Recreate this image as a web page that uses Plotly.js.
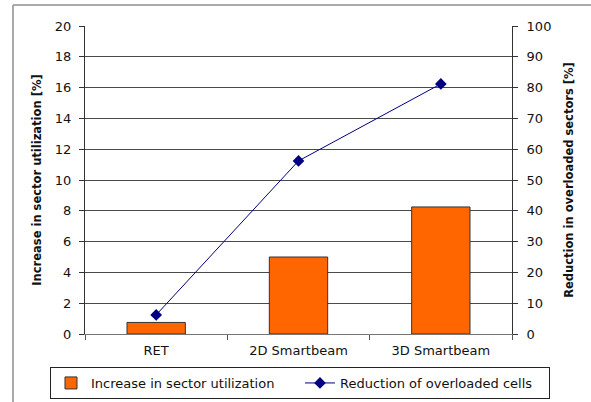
<!DOCTYPE html>
<html>
<head>
<meta charset="utf-8">
<script src="https://cdn.plot.ly/plotly-3.0.1.min.js"></script>
<style>html,body{margin:0;padding:0;background:#fff;}#chart{width:591px;height:402px;}</style>
</head>
<body>
<div id="chart"></div>
<script>
const categories = ["RET", "2D Smartbeam", "3D Smartbeam"];
const utilizationIncrease = [0.75, 5.0, 8.25];
const overloadReduction = [6.2, 56.2, 81.2];
const barName = "Increase in sector utilization";
const lineName = "Reduction of overloaded cells";

const font = {family: "DejaVu Sans, Verdana, sans-serif", color: "#111"};
const f = (s) => Object.assign({size: s}, font);

const traces = [
  {
    type: "bar", x: categories, y: utilizationIncrease, name: barName,
    marker: {color: "#FF6600", line: {color: "#333", width: 1}},
    yaxis: "y", width: 0.41
  },
  {
    type: "scatter", mode: "lines+markers", x: categories, y: overloadReduction, name: lineName,
    line: {color: "#000080", width: 1},
    marker: {symbol: "diamond", size: 9, color: "#000080"},
    yaxis: "y2"
  }
];

const layout = {
  width: 591, height: 402,
  margin: {l: 85, r: 79, t: 26, b: 68, autoexpand: false},
  paper_bgcolor: "#fff", plot_bgcolor: "#fff",
  font: f(13),
  showlegend: true,
  legend: {
    orientation: "h", x: -0.082, y: -0.211, xanchor: "left", yanchor: "bottom",
    bordercolor: "#222", borderwidth: 1, font: f(13),
    traceorder: "normal", entrywidth: 204
  },
  xaxis: {
    type: "category", showline: true, linecolor: "#777", linewidth: 1,
    ticks: "outside", tickson: "boundaries", ticklen: 5, tickcolor: "#555",
    showgrid: false, tickfont: f(13), zeroline: false, ticklabelstandoff: 4
  },
  yaxis: {
    range: [0, 20], dtick: 2, showline: true, linecolor: "#333", linewidth: 1,
    ticks: "outside", ticklen: 5, tickcolor: "#333",
    showgrid: true, gridcolor: "#4a4a4a", gridwidth: 1, zeroline: false,
    tickfont: f(13), ticklabelstandoff: 5,
    title: {text: "<b>Increase in sector utilization [%]</b>", font: f(11.5), standoff: 10}
  },
  yaxis2: {
    range: [0, 100], dtick: 10, overlaying: "y", side: "right",
    showline: true, linecolor: "#333", linewidth: 1,
    ticks: "outside", ticklen: 5, tickcolor: "#333",
    showgrid: false, zeroline: false,
    tickfont: f(13), ticklabelstandoff: 6,
    title: {text: "<b>Reduction in overloaded sectors [%]</b>", font: f(11.5), standoff: 14}
  },
  shapes: [
    {type: "line", xref: "paper", yref: "paper", x0: -0.1686, x1: -0.1686, y0: 1.068, y1: -0.25,
     line: {color: "#aaa", width: 2}},
    {type: "line", xref: "paper", yref: "paper", x0: -0.1686, x1: 1.2, y0: 1.068, y1: 1.068,
     line: {color: "#aaa", width: 2}}
  ]
};

Plotly.newPlot("chart", traces, layout, {displayModeBar: false, staticPlot: true});
</script>
</body>
</html>
